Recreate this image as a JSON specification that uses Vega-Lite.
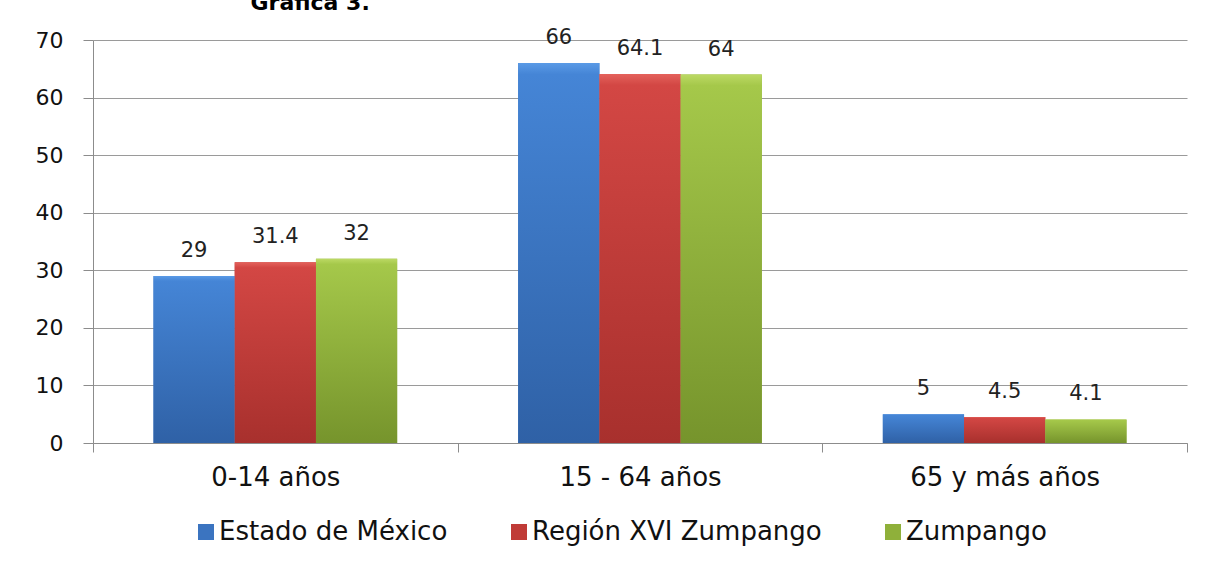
{
  "$schema": "https://vega.github.io/schema/vega-lite/v6.json",
  "width": 1094,
  "height": 403,
  "autosize": {"type": "none"},
  "padding": {"left": 93, "top": 40, "right": 26, "bottom": 122},
  "background": "white",
  "title": {
    "text": "Distribución por Grandes Grupos de Edad.",
    "frame": "group",
    "anchor": "start",
    "baseline": "alphabetic",
    "dx": 346,
    "dy": 20,
    "offset": 0,
    "fontSize": 22,
    "font": "DejaVu Sans, sans-serif",
    "fontWeight": "normal",
    "color": "#8a8a8a"
  },
  "data": {
    "values": [
      {"grupo": "0-14 años", "serie": "Estado de México", "valor": 29},
      {"grupo": "0-14 años", "serie": "Región XVI Zumpango", "valor": 31.4},
      {"grupo": "0-14 años", "serie": "Zumpango", "valor": 32},
      {"grupo": "15 - 64 años", "serie": "Estado de México", "valor": 66},
      {"grupo": "15 - 64 años", "serie": "Región XVI Zumpango", "valor": 64.1},
      {"grupo": "15 - 64 años", "serie": "Zumpango", "valor": 64},
      {"grupo": "65 y más años", "serie": "Estado de México", "valor": 5},
      {"grupo": "65 y más años", "serie": "Región XVI Zumpango", "valor": 4.5},
      {"grupo": "65 y más años", "serie": "Zumpango", "valor": 4.1}
    ]
  },
  "encoding": {
    "x": {
      "field": "grupo",
      "type": "nominal",
      "sort": ["0-14 años", "15 - 64 años", "65 y más años"],
      "scale": {"domain": ["0-14 años", "15 - 64 años", "65 y más años"], "paddingInner": 0, "paddingOuter": 0},
      "axis": {
        "title": null,
        "labelAngle": 0,
        "labelFont": "DejaVu Sans, sans-serif",
        "labelFontSize": 26,
        "labelColor": "#111111",
        "labelBaseline": "alphabetic",
        "labelPadding": 33,
        "labelLimit": 400,
        "tickBand": "extent",
        "tickSize": 9,
        "tickColor": "#8c8c8c",
        "domainColor": "#8c8c8c",
        "grid": false
      }
    },
    "xOffset": {
      "field": "serie",
      "type": "nominal",
      "scale": {"domain": ["Estado de México", "Región XVI Zumpango", "Zumpango"], "paddingInner": 0, "paddingOuter": 0.745}
    },
    "y": {
      "field": "valor",
      "type": "quantitative",
      "scale": {"domain": [0, 70], "nice": false},
      "axis": {
        "title": "Gráfica 3.",
        "titleAngle": 0,
        "titleAlign": "left",
        "titleBaseline": "alphabetic",
        "titleX": 157,
        "titleY": -31,
        "titleFont": "DejaVu Sans, sans-serif",
        "titleFontSize": 22,
        "titleFontWeight": "bold",
        "titleColor": "#000000",
        "values": [0, 10, 20, 30, 40, 50, 60, 70],
        "labelFont": "DejaVu Sans, sans-serif",
        "labelFontSize": 22,
        "labelColor": "#111111",
        "labelPadding": 20,
        "tickSize": 10,
        "tickColor": "#8c8c8c",
        "domainColor": "#8c8c8c",
        "gridColor": "#9a9a9a",
        "grid": true
      }
    }
  },
  "layer": [
    {
      "mark": {"type": "bar"},
      "encoding": {
        "color": {
          "field": "serie",
          "type": "nominal",
          "scale": {
            "domain": ["Estado de México", "Región XVI Zumpango", "Zumpango"],
            "range": ["#3b74c0", "#c03b37", "#8fb03a"]
          },
          "legend": {
            "title": null,
            "orient": "none",
            "direction": "horizontal",
            "legendX": 100,
            "legendY": 479,
            "symbolType": "square",
            "symbolSize": 256,
            "symbolStrokeWidth": 0,
            "labelFont": "DejaVu Sans, sans-serif",
            "labelFontSize": 26,
            "labelColor": "#111111",
            "labelOffset": 0,
            "columnPadding": 58,
            "labelLimit": 400
          }
        }
      }
    },
    {
      "transform": [{"filter": "datum.serie === 'Estado de México'"}],
      "mark": {"type": "bar", "fill": {"gradient": "linear", "x1": 0, "y1": 0, "x2": 0, "y2": 1, "stops": [{"offset": 0, "color": "#5a9ae6"}, {"offset": 0.03, "color": "#4585d6"}, {"offset": 1, "color": "#2f61a6"}]}},
      "encoding": {}
    },
    {
      "transform": [{"filter": "datum.serie === 'Región XVI Zumpango'"}],
      "mark": {"type": "bar", "fill": {"gradient": "linear", "x1": 0, "y1": 0, "x2": 0, "y2": 1, "stops": [{"offset": 0, "color": "#e4625c"}, {"offset": 0.03, "color": "#d34744"}, {"offset": 1, "color": "#a8302d"}]}},
      "encoding": {}
    },
    {
      "transform": [{"filter": "datum.serie === 'Zumpango'"}],
      "mark": {"type": "bar", "fill": {"gradient": "linear", "x1": 0, "y1": 0, "x2": 0, "y2": 1, "stops": [{"offset": 0, "color": "#bcd964"}, {"offset": 0.03, "color": "#a5c84a"}, {"offset": 1, "color": "#76942c"}]}},
      "encoding": {}
    },
    {
      "mark": {
        "type": "text",
        "baseline": "alphabetic",
        "dy": -19,
        "font": "DejaVu Sans, sans-serif",
        "fontSize": 21,
        "color": "#222222"
      },
      "encoding": {
        "text": {"field": "valor", "type": "quantitative"}
      }
    }
  ],
  "config": {
    "view": {"stroke": null}
  }
}
